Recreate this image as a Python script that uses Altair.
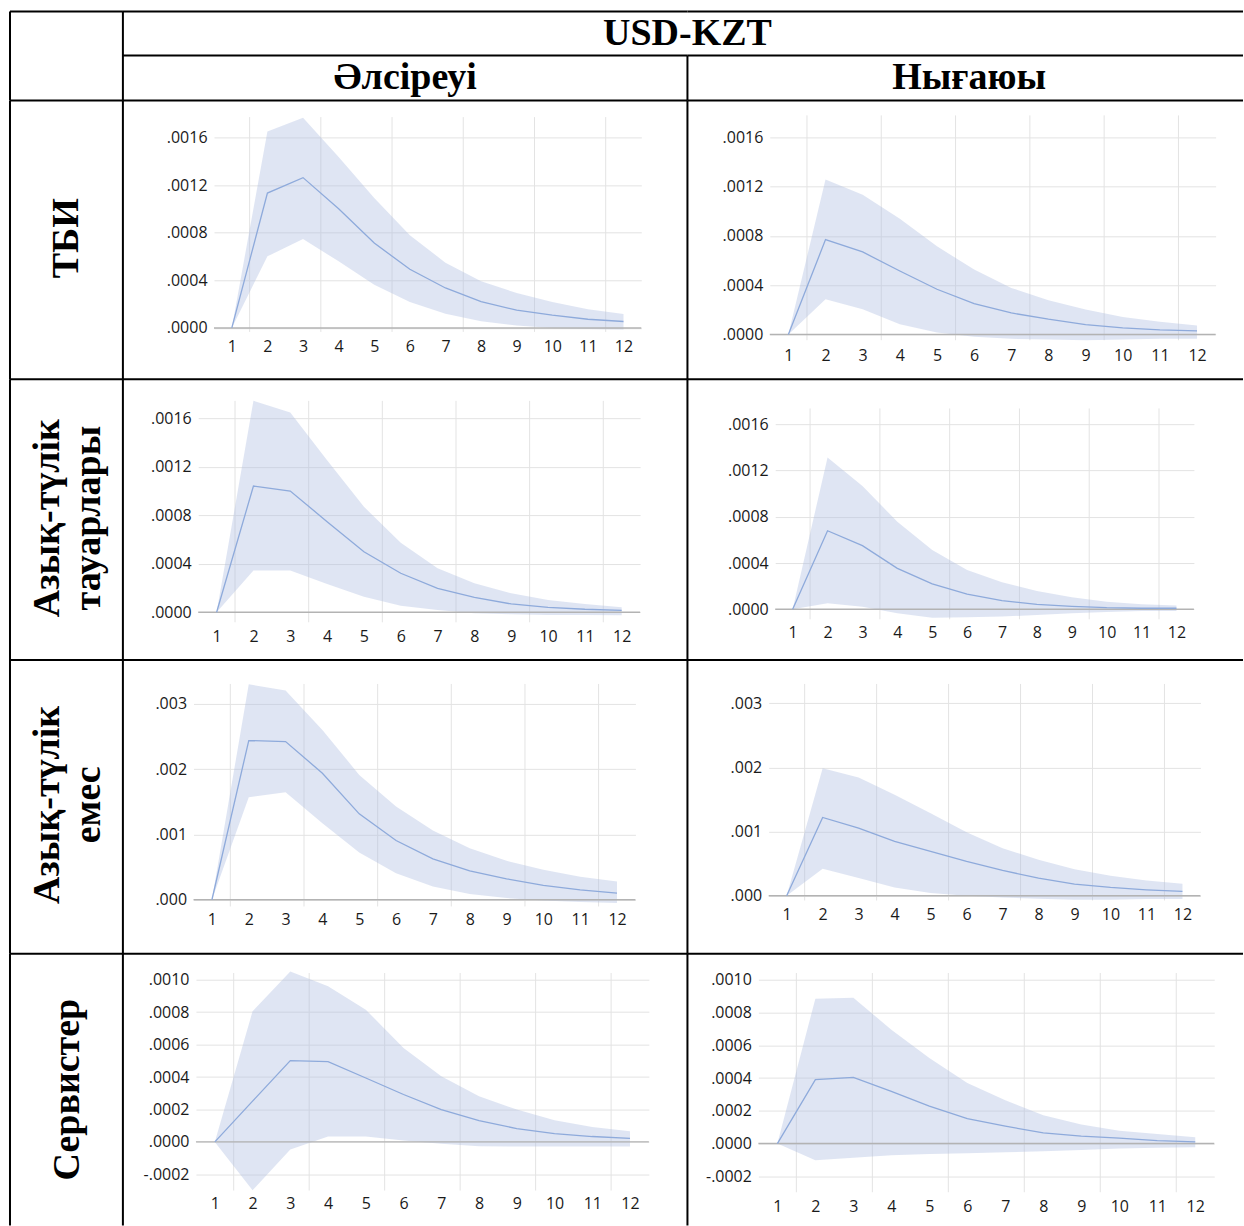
import altair as alt
import pandas as pd

# ---------------- data ----------------
periods = list(range(1, 13))
vgrid_at = [1.5, 3.5, 5.5, 7.5, 9.5, 11.5]

top_title = "USD-KZT"
col_titles = ["Әлсіреуі", "Нығаюы"]
row_labels = ["ТБИ", "Азық-түлік\nтауарлары", "Азық-түлік\nемес", "Сервистер"]

ticks_a = [0, 0.0004, 0.0008, 0.0012, 0.0016]
ticks_b = [0, 0.001, 0.002, 0.003]
ticks_c = [-0.0002, 0, 0.0002, 0.0004, 0.0006, 0.0008, 0.0010]

tbi_weak_mid = [0, 0.001134, 0.001264, 0.001003, 0.000714, 0.000493, 0.000336, 0.000222, 0.000149, 0.000107, 0.000073, 0.000054]
tbi_weak_hi = [0, 0.001653, 0.001768, 0.001437, 0.001093, 0.000779, 0.000549, 0.000392, 0.000294, 0.000219, 0.000157, 0.000118]
tbi_weak_lo = [0, 0.000602, 0.000748, 0.000560, 0.000364, 0.000219, 0.000120, 0.000056, 0.000020, 0.0, -0.000010, -0.000014]

tbi_strong_mid = [0, 0.000769, 0.000669, 0.000515, 0.000367, 0.000251, 0.000175, 0.000124, 0.000081, 0.000054, 0.000038, 0.000030]
tbi_strong_hi = [0, 0.001257, 0.001133, 0.000939, 0.000715, 0.000526, 0.000378, 0.000278, 0.000202, 0.000143, 0.000103, 0.000073]
tbi_strong_lo = [0, 0.000286, 0.000205, 0.000084, 0.000016, -0.000019, -0.000035, -0.000040, -0.000046, -0.000040, -0.000035, -0.000035]

food_weak_mid = [0, 0.001042, 0.001001, 0.000748, 0.000500, 0.000322, 0.000198, 0.000124, 0.000069, 0.000041, 0.000025, 0.000016]
food_weak_hi = [0, 0.001746, 0.001650, 0.001256, 0.000871, 0.000575, 0.000363, 0.000239, 0.000157, 0.000102, 0.000069, 0.000041]
food_weak_lo = [0, 0.000344, 0.000344, 0.000234, 0.000129, 0.000055, 0.000019, -0.000008, -0.000016, -0.000022, -0.000022, -0.000025]

food_strong_mid = [0, 0.000679, 0.000550, 0.000354, 0.000219, 0.000132, 0.000075, 0.000043, 0.000026, 0.000014, 0.000009, 0.000009]
food_strong_hi = [0, 0.001312, 0.001065, 0.000757, 0.000512, 0.000340, 0.000233, 0.000158, 0.000104, 0.000066, 0.000043, 0.000032]
food_strong_lo = [0, 0.000052, 0.000023, -0.000035, -0.000072, -0.000069, -0.000063, -0.000049, -0.000035, -0.000023, -0.000014, -0.000014]

nonfood_weak_mid = [0, 0.002439, 0.002423, 0.001939, 0.001316, 0.000908, 0.000628, 0.000444, 0.000321, 0.000219, 0.000153, 0.000102]
nonfood_weak_hi = [0, 0.003301, 0.003204, 0.002602, 0.001913, 0.001429, 0.001061, 0.000791, 0.000597, 0.000459, 0.000352, 0.000281]
nonfood_weak_lo = [0, 0.001571, 0.001648, 0.001173, 0.000724, 0.000408, 0.000204, 0.000087, 0.000026, -0.000010, -0.000036, -0.000051]

nonfood_strong_mid = [0, 0.001220, 0.001054, 0.000846, 0.000690, 0.000535, 0.000394, 0.000275, 0.000182, 0.000130, 0.000093, 0.000067]
nonfood_strong_hi = [0, 0.001988, 0.001843, 0.001573, 0.001287, 0.000991, 0.000742, 0.000561, 0.000415, 0.000311, 0.000239, 0.000187]
nonfood_strong_lo = [0, 0.000420, 0.000275, 0.000130, 0.000042, 0.0, -0.000026, -0.000047, -0.000062, -0.000062, -0.000052, -0.000052]

serv_weak_mid = [0, 0.000251, 0.000501, 0.000495, 0.000394, 0.000292, 0.000199, 0.000131, 0.000082, 0.000051, 0.000033, 0.000021]
serv_weak_hi = [0, 0.000805, 0.001051, 0.000959, 0.000815, 0.000579, 0.000405, 0.000281, 0.000199, 0.000133, 0.000092, 0.000066]
serv_weak_lo = [0, -0.000298, -0.000047, 0.000033, 0.000033, 0.000008, -0.000012, -0.000027, -0.000029, -0.000029, -0.000029, -0.000029]

serv_strong_mid = [0, 0.000390, 0.000404, 0.000319, 0.000228, 0.000152, 0.000106, 0.000065, 0.000045, 0.000033, 0.000018, 0.000010]
serv_strong_hi = [0, 0.000884, 0.000890, 0.000695, 0.000522, 0.000370, 0.000264, 0.000173, 0.000116, 0.000079, 0.000059, 0.000039]
serv_strong_lo = [0, -0.000102, -0.000087, -0.000071, -0.000063, -0.000059, -0.000053, -0.000047, -0.000039, -0.000030, -0.000026, -0.000022]

# ---------------- layout (pixels) ----------------
col_x = [10, 123, 688, 1244]
row_y = [100, 379, 660, 954, 1226]
header_h = 89

# per panel: x of period 1, x of period 12, y of zero, y of top tick, top tick value,
#            plot top, plot bottom, x-label centre y
geo = {
    (0, 0): (232, 624, 327.7, 137.3, 0.0016, 116.7, 331.7, 346.7),
    (0, 1): (789, 1198, 334.3, 136.7, 0.0016, 115, 340, 355),
    (1, 0): (216.8, 622.2, 612.3, 418.3, 0.0016, 400.7, 622.3, 636.7),
    (1, 1): (793.3, 1177.4, 609.3, 424, 0.0016, 408.3, 619.3, 632.3),
    (2, 0): (212.1, 617.5, 900, 704, 0.003, 684, 906.7, 919.3),
    (2, 1): (787.3, 1183.4, 896, 703.3, 0.003, 684, 900.7, 915),
    (3, 0): (215, 630.5, 1142.3, 980, 0.001, 973.3, 1191, 1204.3),
    (3, 1): (778, 1196.2, 1144, 980, 0.001, 973.3, 1192.7, 1207.3),
}
# anchor of the (first line of the) rotated row label, cell-local
label_pos = [(57, 138), (38, 139), (38, 145), (58, 136)]

series = {
    (0, 0): (tbi_weak_mid, tbi_weak_lo, tbi_weak_hi, ticks_a, ".4f"),
    (0, 1): (tbi_strong_mid, tbi_strong_lo, tbi_strong_hi, ticks_a, ".4f"),
    (1, 0): (food_weak_mid, food_weak_lo, food_weak_hi, ticks_a, ".4f"),
    (1, 1): (food_strong_mid, food_strong_lo, food_strong_hi, ticks_a, ".4f"),
    (2, 0): (nonfood_weak_mid, nonfood_weak_lo, nonfood_weak_hi, ticks_b, ".3f"),
    (2, 1): (nonfood_strong_mid, nonfood_strong_lo, nonfood_strong_hi, ticks_b, ".3f"),
    (3, 0): (serv_weak_mid, serv_weak_lo, serv_weak_hi, ticks_c, ".4f"),
    (3, 1): (serv_strong_mid, serv_strong_lo, serv_strong_hi, ticks_c, ".4f"),
}

BORDER = "#000000"
BW = 2
GRID = "#e3e3e3"
ZERO = "#b3b3b3"
BAND = "#aebfe2"
LINE = "#8eaadb"
TICKFONT = "Open Sans"
TICKSIZE = 16
TICKCOLOR = "#1a1a1a"
HEADFONT = "Liberation Serif"
one = pd.DataFrame({"k": [0]})


def hrule(y, x1, x2):
    return alt.Chart(one).mark_rule(color=BORDER, strokeWidth=BW).encode(
        x=alt.value(x1), x2=alt.value(x2), y=alt.value(y))


def vrule(x, y1, y2):
    return alt.Chart(one).mark_rule(color=BORDER, strokeWidth=BW).encode(
        y=alt.value(y1), y2=alt.value(y2), x=alt.value(x))


def label_text(txt, x, y, size=38):
    return alt.Chart(one).mark_text(
        font=HEADFONT, fontSize=size, fontWeight="bold", color="black",
        align="center", baseline="middle", lineBreak="\n", lineHeight=42,
    ).encode(x=alt.value(x), y=alt.value(y), text=alt.value(txt))


def label_text_rot(txt, x, y, size=38):
    return alt.Chart(one).mark_text(
        font=HEADFONT, fontSize=size, fontWeight="bold", color="black",
        align="center", baseline="middle", angle=270, lineBreak="\n", lineHeight=41,
    ).encode(x=alt.value(x), y=alt.value(y), text=alt.value(txt))


def panel(r, c):
    w = col_x[c + 2] - col_x[c + 1]
    h = row_y[r + 1] - row_y[r]
    cx0 = col_x[c + 1]
    cy0 = row_y[r]
    x1, x12, zpx, tpx, tval, vtop, vbot, laby = geo[(r, c)]
    mid, lo, hi, ticks, fmt = series[(r, c)]
    s = (x12 - x1) / 11.0
    xr = [x1 - s / 2 - cx0, x12 + s / 2 - cx0]
    ppu = (zpx - tpx) / tval
    dom = [(zpx - vbot) / ppu, (zpx - vtop) / ppu]
    yr = [vbot - cy0, vtop - cy0]

    df = pd.DataFrame({"p": periods, "mid": mid, "lo": lo, "hi": hi})
    xs = alt.Scale(domain=[0.5, 12.5], range=xr, nice=False, zero=False)
    ys = alt.Scale(domain=dom, range=yr, nice=False, zero=False)
    xaxis = alt.Axis(values=periods, title=None, grid=False, domain=False, ticks=False,
                     labelFont=TICKFONT, labelFontSize=TICKSIZE, labelColor=TICKCOLOR,
                     labelPadding=laby - vbot, labelBaseline="middle", labelAngle=0,
                     labelFlush=False, labelOverlap=False,
                     offset=-(h - (vbot - cy0)))
    yaxis = alt.Axis(values=ticks, title=None, grid=True, gridColor=GRID, gridWidth=1,
                     domain=False, ticks=False,
                     labelFont=TICKFONT, labelFontSize=TICKSIZE, labelColor=TICKCOLOR,
                     labelExpr="replace(replace(format(datum.value, '%s'), '0.', '.'), '\u2212', '-')" % fmt,
                     labelPadding=7, labelFlush=False, labelOverlap=False,
                     offset=-xr[0])

    vg = alt.Chart(pd.DataFrame({"v": vgrid_at})).mark_rule(color=GRID, strokeWidth=1).encode(
        x=alt.X("v:Q", scale=xs, axis=xaxis, title=None),
        y=alt.YDatum(dom[1], scale=ys, axis=yaxis, title=None),
        y2=alt.Y2Datum(dom[0]),
    )
    band = alt.Chart(df).mark_area(color=BAND, opacity=0.4).encode(
        x=alt.X("p:Q", scale=xs, axis=xaxis, title=None),
        y=alt.Y("lo:Q", scale=ys, axis=yaxis, title=None),
        y2="hi:Q",
    )
    zero = alt.Chart(one).mark_rule(color=ZERO, strokeWidth=1.5).encode(
        x=alt.XDatum(0.5, scale=xs, axis=xaxis, title=None),
        x2=alt.X2Datum(12.5),
        y=alt.YDatum(0, scale=ys, axis=yaxis, title=None),
    )
    line = alt.Chart(df).mark_line(color=LINE, strokeWidth=1.3).encode(
        x=alt.X("p:Q", scale=xs, axis=xaxis, title=None),
        y=alt.Y("mid:Q", scale=ys, axis=yaxis, title=None),
    )
    layers = [vg, band, zero, line, hrule(0, 0, w), vrule(0, 0, h)]
    return alt.layer(*layers).properties(width=w, height=h)


def label_cell(r):
    w = col_x[1] - col_x[0]
    h = row_y[r + 1] - row_y[r]
    lx, ly = label_pos[r]
    return alt.layer(
        label_text_rot(row_labels[r], lx, ly),
        hrule(0, 0, w), vrule(0, 0, h),
    ).properties(width=w, height=h)


# header cells
w0 = col_x[1] - col_x[0]
w1 = col_x[2] - col_x[1]
w2 = col_x[3] - col_x[2]
mid_line = 44
head0 = alt.layer(hrule(0, 0, w0), vrule(0, 0, header_h)).properties(width=w0, height=header_h)
head1 = alt.layer(
    hrule(0, 0, w1), vrule(0, 0, header_h), hrule(mid_line, 0, w1),
    label_text(top_title, w1, 23),
    label_text(col_titles[0], w1 / 2, 67),
).properties(width=w1, height=header_h)
head2 = alt.layer(
    hrule(0, 0, w2), vrule(0, mid_line, header_h), hrule(mid_line, 0, w2),
    label_text(col_titles[1], w2 / 2 + 4, 67),
).properties(width=w2, height=header_h)

cells = [head0, head1, head2]
for r in range(4):
    cells += [label_cell(r), panel(r, 0), panel(r, 1)]

chart = alt.concat(*cells, columns=3, spacing=0, bounds="flush", align="each").properties(
    padding={"left": 9, "top": 10, "right": 0, "bottom": 0},
    background="white",
).configure_view(strokeWidth=0)

chart.save("out.html", embed_options={"renderer": "svg", "actions": False})
